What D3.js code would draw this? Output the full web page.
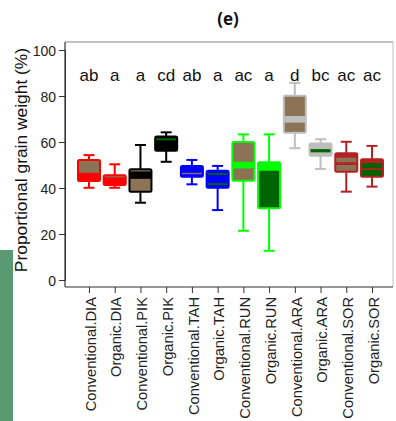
<!DOCTYPE html>
<html>
<head>
<meta charset="utf-8">
<script src="https://cdn.jsdelivr.net/npm/d3@7"></script>
<style>
  body { margin:0; background:#fff; }
  text { font-family: "Liberation Sans", Arial, sans-serif; }
</style>
</head>
<body>
<svg id="chart" width="396" height="421"></svg>
<script>
// values
var categories = ["Conventional.DIA","Organic.DIA","Conventional.PIK","Organic.PIK","Conventional.TAH","Organic.TAH",
                  "Conventional.RUN","Organic.RUN","Conventional.ARA","Organic.ARA","Conventional.SOR","Organic.SOR"]
var minV  = [40.1, 40.1, 33.6, 51.4, 41.6, 30.4, 21.4, 12.7, 57.3, 48.3, 38.4, 40.6]
var q1V   = [43.0, 41.3, 38.4, 56.2, 44.9, 40.1, 43.2, 31.2, 64.0, 54.0, 47.1, 44.9]
var q3V   = [52.2, 45.5, 48.1, 62.4, 49.6, 47.5, 60.0, 51.2, 80.1, 59.4, 55.1, 52.5]
var maxV  = [54.3, 50.3, 58.7, 64.2, 52.2, 49.6, 63.3, 63.3, 85.7, 61.2, 60.1, 58.3]
// thick median band (lo, hi) and a second band for the few boxes that show one
var medLo = [43.0, 44.6, 44.0, 60.7, 46.0, 45.7, 48.5, 47.5, 68.4, 55.5, 50.0, 50.8]
var medHi = [46.6, 45.3, 47.2, 61.6, 46.6, 46.5, 51.4, 51.2, 71.3, 56.9, 51.2, 52.4]
var extraLo = [null, null, null, null, null, 41.3, null, null, null, null, 53.2, 47.8]
var extraHi = [null, null, null, null, null, 42.1, null, null, null, null, 55.0, 48.6]
var letters = ["ab","a","a","cd","ab","a","ac","a","d","bc","ac","ac"]
var yTicks = [0, 20, 40, 60, 80, 100]

// colours
var brown="#8b7355", dkgreen="#006400"
var borderCol = ["#ff0000","#ff0000","#000000","#000000","#0000ff","#0000ff","#00ff00","#00ff00","#bebebe","#bebebe","#b22222","#b22222"]
var fillCol   = [brown,"#ff0000",brown,"#000000","#0000ff","#0000ff",brown,dkgreen,brown,"#bebebe",brown,dkgreen]
var bandCol   = ["#ff0000",brown,"#000000",dkgreen,brown,dkgreen,"#00ff00","#00ff00","#bebebe",dkgreen,"#b22222","#b22222"]

var svg = d3.select("#chart")

// leftover strip of the neighbouring panel
svg.append("rect").attr("x",0).attr("y",250).attr("width",13).attr("height",171).attr("fill","#5a9a72")

var x = d3.scalePoint().domain(categories).range([89, 372])
var y = d3.scaleLinear().domain([0,100]).range([280, 50])

// plot box
svg.append("line").attr("x1",65).attr("x2",393).attr("y1",42).attr("y2",42).attr("stroke","#888").attr("stroke-width",1.2)
svg.append("line").attr("x1",393).attr("x2",393).attr("y1",42).attr("y2",287).attr("stroke","#ccc").attr("stroke-width",1.2)
svg.append("line").attr("x1",65).attr("x2",65).attr("y1",42).attr("y2",287).attr("stroke","#333").attr("stroke-width",1.2)
svg.append("line").attr("x1",65).attr("x2",393).attr("y1",287).attr("y2",287).attr("stroke","#333").attr("stroke-width",1.2)

// y axis
var yAxis = svg.append("g").attr("transform","translate(65,0)")
  .call(d3.axisLeft(y).tickValues(yTicks).tickSize(6).tickPadding(3))
yAxis.select(".domain").attr("stroke","#333")
yAxis.selectAll(".tick line").attr("stroke","#333")
yAxis.selectAll("text").attr("font-size",14).attr("fill","#222").attr("dy","0.36em")

// x axis
var xAxis = svg.append("g").attr("transform","translate(0,287)")
  .call(d3.axisBottom(x).tickSize(6).tickSizeOuter(0))
xAxis.select(".domain").remove()
xAxis.selectAll(".tick line").attr("stroke","#333")
xAxis.selectAll("text")
  .attr("font-size",14.7).attr("fill","#222")
  .attr("text-anchor","end")
  .attr("transform","rotate(-90)")
  .attr("x",-10).attr("y",0).attr("dy","0.42em")

var bw = 22

var box = svg.selectAll("g.box").data(categories).enter().append("g").attr("class","box")
  .attr("transform", function(d){ return "translate(" + x(d) + ",0)" })

// whiskers
box.append("line").attr("x1",0).attr("x2",0)
  .attr("y1", function(d,i){ return y(maxV[i]) }).attr("y2", function(d,i){ return y(q3V[i]) })
  .attr("stroke", function(d,i){ return borderCol[i] }).attr("stroke-width",2)
box.append("line").attr("x1",0).attr("x2",0)
  .attr("y1", function(d,i){ return y(q1V[i]) }).attr("y2", function(d,i){ return y(minV[i]) })
  .attr("stroke", function(d,i){ return borderCol[i] }).attr("stroke-width",2)
box.append("line").attr("x1",-bw/4).attr("x2",bw/4)
  .attr("y1", function(d,i){ return y(maxV[i]) }).attr("y2", function(d,i){ return y(maxV[i]) })
  .attr("stroke", function(d,i){ return borderCol[i] }).attr("stroke-width",2)
box.append("line").attr("x1",-bw/4).attr("x2",bw/4)
  .attr("y1", function(d,i){ return y(minV[i]) }).attr("y2", function(d,i){ return y(minV[i]) })
  .attr("stroke", function(d,i){ return borderCol[i] }).attr("stroke-width",2)

// box fill
box.append("rect").attr("x",-bw/2).attr("width",bw)
  .attr("y", function(d,i){ return y(q3V[i]) })
  .attr("height", function(d,i){ return y(q1V[i]) - y(q3V[i]) })
  .attr("fill", function(d,i){ return fillCol[i] })

// median bands
box.append("rect").attr("x",-bw/2).attr("width",bw)
  .attr("y", function(d,i){ return y(medHi[i]) })
  .attr("height", function(d,i){ return y(medLo[i]) - y(medHi[i]) })
  .attr("fill", function(d,i){ return bandCol[i] })
box.filter(function(d,i){ return extraLo[i] != null }).append("rect").attr("x",-bw/2).attr("width",bw)
  .attr("y", function(d){ var i=categories.indexOf(d); return y(extraHi[i]) })
  .attr("height", function(d){ var i=categories.indexOf(d); return y(extraLo[i]) - y(extraHi[i]) })
  .attr("fill", function(d){ return bandCol[categories.indexOf(d)] })

// box outline
box.append("rect").attr("x",-bw/2).attr("width",bw)
  .attr("y", function(d,i){ return y(q3V[i]) })
  .attr("height", function(d,i){ return y(q1V[i]) - y(q3V[i]) })
  .attr("fill","none").attr("rx",1.5)
  .attr("stroke", function(d,i){ return borderCol[i] }).attr("stroke-width",2)

// significance letters
svg.selectAll("text.letter").data(letters).enter().append("text").attr("class","letter")
  .attr("x", function(d,i){ return x(categories[i]) }).attr("y",81)
  .attr("text-anchor","middle").attr("font-size",17).attr("fill","#111")
  .text(function(d){ return d })

// title
svg.append("text").attr("x",228).attr("y",25).attr("text-anchor","middle")
  .attr("font-size",17).attr("font-weight","bold").attr("fill","#111")
  .style("font-family","'Open Sans', sans-serif").text("(e)")

// y label
svg.append("text").attr("transform","translate(27,160)rotate(-90)")
  .attr("text-anchor","middle").attr("font-size",17.4).attr("fill","#111")
  .text("Proportional grain weight (%)")
</script>
</body>
</html>
